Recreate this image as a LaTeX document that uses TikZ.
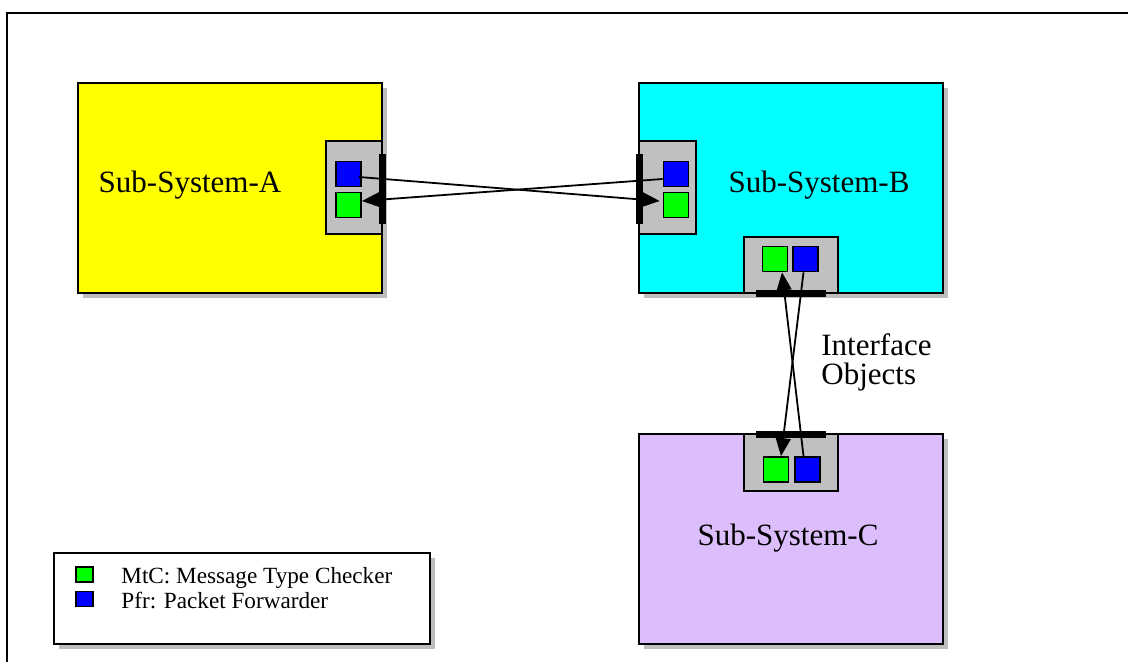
\documentclass[tikz,border=0pt]{standalone}
\usepackage{fontspec}
\setmainfont{Liberation Serif}
\usepackage{xcolor}
\usetikzlibrary{arrows.meta, shadows, positioning}

\definecolor{ifgray}{RGB}{192,192,192}
\definecolor{shadowgray}{RGB}{190,190,190}
\definecolor{sysyellow}{RGB}{255,255,0}
\definecolor{syscyan}{RGB}{0,255,255}
\definecolor{lavender}{RGB}{220,190,252}
\definecolor{mtcgreen}{RGB}{0,255,0}
\definecolor{pfrblue}{RGB}{0,0,255}

\tikzset{
  subsys/.style={draw, line width=1pt, inner sep=0pt,
    minimum width=152pt, minimum height=105pt,
    drop shadow={shadow xshift=2.5pt, shadow yshift=-2.5pt, fill=shadowgray, opacity=1}},
  ifbox/.style={draw, line width=0.9pt, fill=ifgray, inner sep=0pt},
  objsq/.style={draw, line width=0.9pt, inner sep=0pt, minimum size=12.5pt},
  mtc/.style={objsq, fill=mtcgreen},
  pfr/.style={objsq, fill=pfrblue},
  sysname/.style={font=\fontsize{15.5}{18}\selectfont, inner sep=0pt},
  link/.style={line width=0.9pt, -{Triangle[length=9pt,width=7.5pt]}},
  portbar/.style={fill=black}
}

\begin{document}
\begin{tikzpicture}[x=0.5pt, y=-0.5pt]

\useasboundingbox (0,0) rectangle (1128,662);

% Outer frame
\draw[line width=1pt] (7,700) -- (7,13) -- (1140,13);

% Sub-systems
\node[subsys, fill=sysyellow] (sysA) at (230,188) {};
\node[subsys, fill=syscyan] (sysB) at (791,188) {};
\node[subsys, fill=lavender] (sysC) at (791,539) {};

\node[sysname] (nameA) at (190,185) {Sub-System-A};
\node[sysname] (nameB) at (819,185) {Sub-System-B};
\node[sysname] (nameC) at (788,538) {Sub-System-C};

% Interface boxes
\node[ifbox, minimum width=28pt, minimum height=46.5pt] (ifA) at (354,187.5) {};
\node[ifbox, minimum width=28.5pt, minimum height=46.5pt] (ifBl) at (667.5,187.5) {};
\node[ifbox, minimum width=47pt, minimum height=28pt] (ifBb) at (791,265) {};
\node[ifbox, minimum width=47pt, minimum height=28.5pt] (ifC) at (791,462.5) {};

% Ports
\fill[portbar] (379,154) rectangle (386,224);
\fill[portbar] (636,154) rectangle (643,224);
\fill[portbar] (756,290) rectangle (826,297);
\fill[portbar] (756,431) rectangle (826,438);

% Interface objects
\node[pfr] (pfrA) at (348.5,174) {};
\node[mtc] (mtcA) at (348.5,205) {};
\node[pfr] (pfrBl) at (676,174) {};
\node[mtc] (mtcBl) at (676,205) {};
\node[mtc] (mtcBb) at (775,259) {};
\node[pfr] (pfrBb) at (805.5,259) {};
\node[mtc] (mtcC) at (776,469.5) {};
\node[pfr] (pfrC) at (807.5,469.5) {};

% Links
\draw[link] ([xshift=-1.5pt, yshift=-1.5pt]pfrA.east) -- ([xshift=-1.5pt, yshift=2pt]mtcBl.west);
\draw[link] ([yshift=-2.5pt]pfrBl.west) -- ([yshift=2pt]mtcA.east);
\draw[link] ([xshift=-1pt]pfrBb.south) -- ([xshift=2.5pt]mtcC.north);
\draw[link] ([xshift=-2pt]pfrC.north) -- ([xshift=3.5pt]mtcBb.south);

\node[sysname, anchor=west, align=left, font=\fontsize{15.5}{14.5}\selectfont] (ifobj) at (821,362) {Interface\\Objects};

% Legend
\node[draw, line width=1pt, fill=white, inner sep=0pt, minimum width=188pt, minimum height=45.5pt,
  drop shadow={shadow xshift=2.5pt, shadow yshift=-2.5pt, fill=shadowgray, opacity=1}] (legend) at (242,598.5) {};
\node[draw, line width=0.7pt, fill=mtcgreen, inner sep=0pt, minimum width=8.5pt, minimum height=7.5pt] (keyMtc) at (84.5,574.5) {};
\node[draw, line width=0.7pt, fill=pfrblue, inner sep=0pt, minimum width=8.5pt, minimum height=7.5pt] (keyPfr) at (84.5,599) {};
\node[font=\fontsize{11.6}{14}\selectfont, anchor=base west, inner sep=0pt] (txtMtc) at (121,583) {MtC: Message Type Checker};
\node[font=\fontsize{11.6}{14}\selectfont, anchor=base west, inner sep=0pt] (txtPfr) at (121,608) {Pfr: Packet Forwarder};

\end{tikzpicture}
\end{document}
